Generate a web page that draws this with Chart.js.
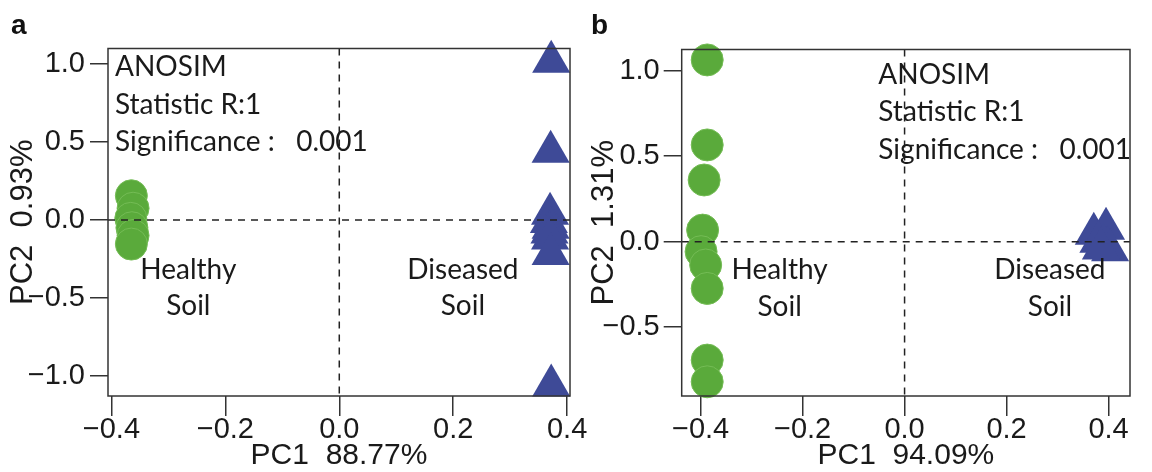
<!DOCTYPE html>
<html>
<head>
<meta charset="utf-8">
<script src="https://cdn.jsdelivr.net/npm/chart.js@4.4.0/dist/chart.umd.min.js"></script>
<style>
  html, body { margin: 0; padding: 0; background: #fff; }
  body { width: 1152px; height: 472px; position: relative; overflow: hidden; }
  .panel { position: absolute; top: 0; height: 472px; }
  .tag { position: absolute; font: bold 28px "Liberation Sans", Arial, sans-serif; line-height: 1; color: #111; }
</style>
</head>
<body>
<div class="panel" style="left:0;width:600px"><canvas id="chartA"></canvas></div>
<div class="panel" style="left:580px;width:572px"><canvas id="chartB"></canvas></div>
<div class="tag" style="left:11px;top:11px">a</div>
<div class="tag" style="left:591px;top:11px">b</div>
<script>
// panel a: PCoA scores
const healthyAx = [-0.365, -0.362, -0.366, -0.364, -0.362, -0.365];
const healthyAy = [0.155, 0.075, 0.01, -0.05, -0.10, -0.155];
const diseasedAx = [0.372, 0.371, 0.370, 0.368, 0.371, 0.369, 0.370, 0.371, 0.372];
const diseasedAy = [1.015, 0.437, 0.04, -0.013, -0.05, -0.08, -0.12, -0.218, -1.062];

// panel b: PCoA scores
const healthyBx = [-0.387, -0.387, -0.393, -0.396, -0.399, -0.390, -0.387, -0.387, -0.387];
const healthyBy = [1.063, 0.566, 0.361, 0.068, -0.058, -0.136, -0.273, -0.692, -0.819];
const diseasedBx = [0.371, 0.395, 0.380, 0.390, 0.398, 0.403, 0.385];
const diseasedBy = [0.047, 0.076, 0.0, -0.02, -0.035, -0.05, -0.04];

// ticks
const xTickValues = [-0.4, -0.2, 0.0, 0.2, 0.4];
const yTicksA = [-1.0, -0.5, 0.0, 0.5, 1.0];
const yTicksB = [-0.5, 0.0, 0.5, 1.0];

const statLines = ["ANOSIM", "Statistic R:1", "Significance :   0.001"];

const green = "#5AAA3B";
const blue = "#3E4A97";
const axisFont = "'Liberation Sans', Arial, sans-serif";

const fmt = v => (v < 0 ? "\u2212" : "") + Math.abs(v).toFixed(1);
const pts = (xs, ys) => xs.map((x, i) => ({ x: x, y: ys[i] }));

const overlay = {
  id: "overlay",
  afterDatasetsDraw(chart, args, opts) {
    const { ctx, chartArea: a, scales: { x, y } } = chart;
    ctx.save();
    // dashed zero lines
    ctx.strokeStyle = "#222";
    ctx.lineWidth = 1.5;
    ctx.setLineDash([7, 6]);
    const x0 = x.getPixelForValue(0), y0 = y.getPixelForValue(0);
    ctx.beginPath();
    ctx.moveTo(a.left, y0); ctx.lineTo(a.right, y0);
    ctx.moveTo(x0, a.top); ctx.lineTo(x0, a.bottom);
    ctx.stroke();
    ctx.setLineDash([]);
    ctx.strokeStyle = "#333";
    ctx.strokeRect(a.left, a.top, a.right - a.left, a.bottom - a.top);
    // annotations
    ctx.fillStyle = "#1a1a1a";
    ctx.font = "28px Lato";
    ctx.textBaseline = "middle";
    ctx.textAlign = "left";
    statLines.forEach((t, i) => ctx.fillText(t, a.left + opts.statX, opts.statY[i]));
    ctx.textAlign = "center";
    opts.groups.forEach(g => ctx.fillText(g.text, x.getPixelForValue(g.x), y.getPixelForValue(g.y)));
    ctx.restore();
  }
};

function makeChart(id, cfg) {
  new Chart(document.getElementById(id), {
    type: "scatter",
    data: {
      datasets: [
        { data: pts(cfg.hx, cfg.hy), pointStyle: "circle", pointRadius: 16,
          backgroundColor: green, borderColor: "#74BC55", borderWidth: 1, clip: false },
        { data: pts(cfg.dx, cfg.dy), pointStyle: "triangle", pointRadius: 22,
          backgroundColor: blue, borderWidth: 0, clip: false }
      ]
    },
    options: {
      responsive: true,
      maintainAspectRatio: false,
      animation: false,
      events: [],
      layout: { padding: { left: 0, right: cfg.padRight, top: cfg.padTop, bottom: 0 } },
      plugins: {
        legend: { display: false },
        tooltip: { enabled: false },
        overlay: { statX: cfg.statX, statY: cfg.statY, groups: cfg.groups }
      },
      scales: {
        x: {
          type: "linear", min: cfg.xr[0], max: cfg.xr[1],
          afterBuildTicks: s => { s.ticks = xTickValues.map(v => ({ value: v })); },
          afterFit: s => { s.height = 76; s.paddingLeft = 0; s.paddingRight = 0; },
          ticks: { callback: fmt, font: { family: axisFont, size: 29, lineHeight: 1 },
                   color: "#1a1a1a", padding: -1, maxRotation: 0, autoSkip: false },
          grid: { drawOnChartArea: false, tickLength: 20, color: "#333", lineWidth: 1.5 },
          border: { display: false },
          title: { display: true, text: cfg.xTitle, color: "#1a1a1a",
                   font: { family: axisFont, size: 30, lineHeight: 1 }, padding: { top: 0, bottom: 1 } }
        },
        y: {
          type: "linear", min: cfg.yr[0], max: cfg.yr[1],
          afterBuildTicks: s => { s.ticks = cfg.yTicks.map(v => ({ value: v })); },
          afterFit: s => { s.width = cfg.yWidth; s.paddingTop = 0; s.paddingBottom = 0; },
          ticks: { callback: fmt, font: { family: axisFont, size: 29, lineHeight: 1 },
                   color: "#1a1a1a", padding: cfg.yPad, autoSkip: false },
          grid: { drawOnChartArea: false, tickLength: 18, color: "#333", lineWidth: 1.5 },
          border: { display: false },
          title: { display: true, text: cfg.yTitle, color: "#1a1a1a",
                   font: { family: axisFont, size: 31, lineHeight: 1 }, padding: { top: cfg.yTitlePad, bottom: 0 } }
        }
      }
    },
    plugins: [overlay]
  });
}

makeChart("chartA", {
  hx: healthyAx, hy: healthyAy, dx: diseasedAx, dy: diseasedAy,
  xr: [-0.406, 0.405], yr: [-1.13, 1.10], yTicks: yTicksA,
  xTitle: "PC1  88.77%", yTitle: "PC2  0.93%",
  yWidth: 108, yPad: 5, yTitlePad: 8, padRight: 30, padTop: 48.5,
  statX: 7, statY: [66.7, 105, 141.7],
  groups: [
    { text: "Healthy", x: -0.265, y: -0.321 }, { text: "Soil", x: -0.265, y: -0.552 },
    { text: "Diseased", x: 0.217, y: -0.321 }, { text: "Soil", x: 0.217, y: -0.552 }
  ]
});

makeChart("chartB", {
  hx: healthyBx, hy: healthyBy, dx: diseasedBx, dy: diseasedBy,
  xr: [-0.437, 0.442], yr: [-0.902, 1.124], yTicks: yTicksB,
  xTitle: "PC1  94.09%", yTitle: "PC2  1.31%",
  yWidth: 101.7, yPad: 4, yTitlePad: 9, padRight: 8, padTop: 49.5,
  statX: 196.6, statY: [75, 111.7, 150],
  groups: [
    { text: "Healthy", x: -0.245, y: -0.165 }, { text: "Soil", x: -0.245, y: -0.38 },
    { text: "Diseased", x: 0.285, y: -0.165 }, { text: "Soil", x: 0.285, y: -0.38 }
  ]
});
</script>
</body>
</html>
